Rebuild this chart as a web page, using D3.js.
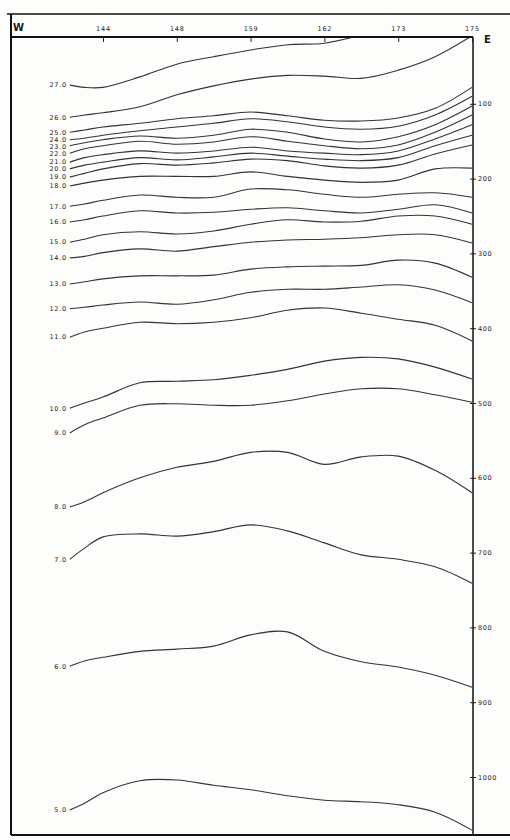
<!DOCTYPE html>
<html>
<head>
<meta charset="utf-8">
<script src="https://cdn.jsdelivr.net/npm/d3@7"></script>
<style>
  body { margin: 0; background: #fff; }
  text { font-family: "DejaVu Sans", sans-serif; fill: #1a1a1a; }
</style>
</head>
<body>
<div id="chart"></div>
<script>
// stations along the section (west -> east)
const stations = ["144", "148", "159", "162", "173", "175"];
const stationPos = [1, 2, 3, 4, 5, 6];
// positions (in station units) where each isotherm depth was read
const samplePos = [0.55, 0.75, 1, 1.5, 2, 2.5, 3, 3.5, 4, 4.5, 5, 5.5, 6];
const depthTicks = [100, 200, 300, 400, 500, 600, 700, 800, 900, 1000];

// isotherm depths (m) at samplePos
const t27 = [75, 78, 78, 64, 47, 37, 28, 21, 19, 8, null, null, null];
const t26 = [118, 115, 112, 104, 88, 76, 67, 62, 63, 66, 55, 37, 9];
const t25 = [138, 135, 131, 126, 120, 116, 111, 116, 122, 123, 119, 106, 78];
const t24 = [148, 146, 142, 136, 131, 126, 120, 124, 131, 134, 130, 115, 90];
const t23 = [156, 152, 148, 143, 146, 142, 134, 138, 147, 151, 144, 128, 103];
const t22 = [166, 160, 156, 150, 154, 151, 144, 150, 156, 160, 155, 138, 115];
const t21 = [178, 172, 168, 163, 166, 163, 158, 163, 166, 168, 163, 147, 128];
const t20 = [187, 182, 178, 172, 175, 171, 166, 170, 174, 176, 172, 156, 142];
const t19 = [198, 193, 187, 180, 182, 179, 174, 176, 183, 186, 182, 167, 155];
const t18 = [210, 206, 202, 197, 197, 197, 191, 197, 202, 205, 202, 187, 186];
const t17 = [237, 234, 229, 222, 225, 225, 214, 215, 221, 225, 221, 219, 225];
const t16 = [258, 255, 250, 243, 246, 245, 241, 239, 243, 246, 241, 235, 246];
const t15 = [285, 281, 275, 271, 274, 270, 261, 255, 258, 257, 250, 250, 261];
const t14 = [306, 304, 299, 294, 297, 291, 285, 282, 281, 279, 275, 275, 286];
const t13 = [341, 338, 334, 330, 330, 329, 321, 318, 317, 316, 309, 313, 332];
const t12 = [374, 372, 369, 365, 368, 362, 352, 348, 348, 345, 342, 349, 366];
const t11 = [412, 405, 400, 392, 394, 392, 386, 376, 373, 380, 388, 396, 417];
const t10 = [507, 500, 492, 473, 471, 469, 463, 455, 444, 439, 441, 452, 468];
const t9 = [540, 529, 520, 503, 501, 503, 503, 497, 488, 481, 481, 489, 499];
const t8 = [639, 632, 620, 600, 586, 578, 566, 566, 582, 572, 571, 590, 620];
const t7 = [709, 694, 679, 675, 678, 672, 663, 671, 687, 703, 709, 719, 741];
const t6 = [852, 845, 840, 832, 829, 825, 810, 806, 832, 846, 853, 864, 880];
const t5 = [1044, 1035, 1021, 1005, 1004, 1011, 1017, 1025, 1031, 1033, 1037, 1047, 1071];

const tempLabels = ["27.0", "26.0", "25.0", "24.0", "23.0", "22.0", "21.0", "20.0", "19.0", "18.0",
  "17.0", "16.0", "15.0", "14.0", "13.0", "12.0", "11.0", "10.0", "9.0", "8.0", "7.0", "6.0", "5.0"];
const isotherms = [t27, t26, t25, t24, t23, t22, t21, t20, t19, t18, t17, t16, t15, t14, t13, t12,
  t11, t10, t9, t8, t7, t6, t5];

const width = 510, height = 840;
const x = d3.scaleLinear().domain([1, 6]).range([103, 472]);
const y = d3.scaleLinear().domain([0, 1000]).range([29, 777]);
const plotTop = 37, plotBottom = 835, plotLeft = 11, plotRight = x(6) + 1;

const svg = d3.select("#chart").append("svg")
  .attr("width", width)
  .attr("height", height);

svg.append("rect").attr("width", width).attr("height", height).attr("fill", "#fdfdfc");

svg.append("clipPath").attr("id", "plot")
  .append("rect")
    .attr("x", plotLeft).attr("y", plotTop)
    .attr("width", plotRight - plotLeft).attr("height", plotBottom - plotTop);

const line = d3.line()
  .defined(d => d[1] != null)
  .x(d => x(d[0]))
  .y(d => y(d[1]))
  .curve(d3.curveCatmullRom.alpha(0.5));

const iso = svg.append("g").attr("clip-path", "url(#plot)");
iso.selectAll("path")
  .data(isotherms)
  .enter()
  .append("path")
    .attr("d", d => line(d.map((v, i) => [samplePos[i], v])))
    .attr("fill", "none")
    .attr("stroke", "#333")
    .attr("stroke-width", 1.1);

// isotherm labels at the west end of each line, nudged apart where they crowd
let labelY = isotherms.map(d => y(d[0]) + 2.3);
for (let i = 1; i < labelY.length; i++) {
  if (labelY[i] < labelY[i - 1] + 7) labelY[i] = labelY[i - 1] + 7;
}
svg.append("g").selectAll("text")
  .data(isotherms)
  .enter()
  .append("text")
    .attr("x", x(samplePos[0]) - 3)
    .attr("y", (d, i) => labelY[i])
    .attr("text-anchor", "end")
    .style("font-size", "6.5px")
    .style("letter-spacing", "0.7px")
    .text((d, i) => tempLabels[i]);

// frame
const frame = svg.append("g").attr("stroke", "#111").attr("fill", "none");
frame.append("line").attr("x1", 7).attr("x2", width).attr("y1", 14).attr("y2", 14).attr("stroke-width", 1.5);
frame.append("line").attr("x1", plotLeft).attr("x2", plotLeft).attr("y1", 14).attr("y2", plotBottom).attr("stroke-width", 2);
frame.append("line").attr("x1", plotLeft).attr("x2", plotRight).attr("y1", plotTop).attr("y2", plotTop).attr("stroke-width", 1.8);
frame.append("line").attr("x1", plotRight).attr("x2", plotRight).attr("y1", plotTop).attr("y2", plotBottom).attr("stroke-width", 1.5);
frame.append("line").attr("x1", plotLeft).attr("x2", width).attr("y1", plotBottom).attr("y2", plotBottom).attr("stroke-width", 1.8);

// station axis along the top
const xAxis = svg.append("g")
  .attr("transform", `translate(0,${plotTop})`)
  .call(d3.axisBottom(x).tickValues(stationPos).tickSize(5).tickFormat((d, i) => stations[i]));
xAxis.select(".domain").remove();
xAxis.selectAll("line").attr("stroke", "#222");
xAxis.selectAll("text")
  .attr("y", -6)
  .attr("dy", 0)
  .style("font-size", "6.5px")
  .style("letter-spacing", "0.8px");

// depth axis on the right
const yAxis = svg.append("g")
  .attr("transform", `translate(${plotRight - 3},0)`)
  .call(d3.axisRight(y).tickValues(depthTicks).tickSize(6).tickFormat(d3.format("d")));
yAxis.select(".domain").remove();
yAxis.selectAll("line").attr("stroke", "#222");
yAxis.selectAll("text")
  .attr("x", 8)
  .style("font-size", "6.5px")
  .style("letter-spacing", "0.6px");

svg.append("text").attr("x", 13).attr("y", 31)
  .style("font-size", "10px").style("font-weight", "bold").text("W");
svg.append("text").attr("x", 484).attr("y", 43)
  .style("font-size", "10px").style("font-weight", "bold").text("E");
</script>
</body>
</html>
